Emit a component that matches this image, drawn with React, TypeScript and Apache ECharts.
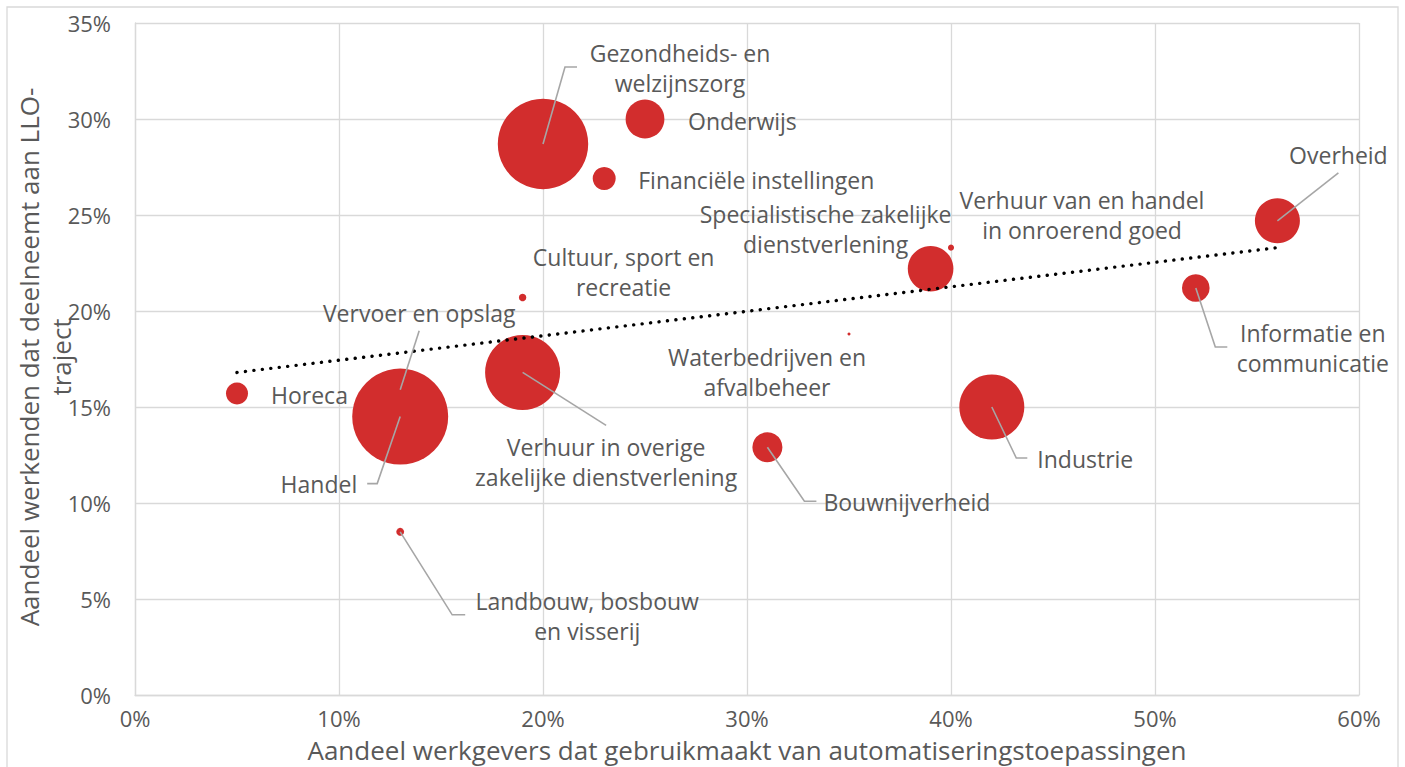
import React, { useEffect, useRef } from "react";
import * as echarts from "echarts";

// ---- data ----
const sectoren: string[] = [
  "Gezondheids- en\nwelzijnszorg",
  "Onderwijs",
  "Financiële instellingen",
  "Cultuur, sport en\nrecreatie",
  "Specialistische zakelijke\ndienstverlening",
  "Verhuur van en handel\nin onroerend goed",
  "Waterbedrijven en\nafvalbeheer",
  "Overheid",
  "Informatie en\ncommunicatie",
  "Industrie",
  "Bouwnijverheid",
  "Landbouw, bosbouw\nen visserij",
  "Vervoer en opslag",
  "Handel",
  "Horeca",
  "Verhuur in overige\nzakelijke dienstverlening",
];
// share of employers using automation applications (%)
const automatisering: number[] = [20, 25, 23, 19, 39, 40, 35, 56, 52, 42, 31, 13, 13, 13, 5, 19];
// share of workers taking part in an LLO-traject (%)
const lloDeelname: number[] = [28.7, 30.0, 26.9, 20.7, 22.2, 23.3, 18.8, 24.7, 21.2, 15.0, 12.9, 8.5, 15.9, 14.5, 15.7, 16.8];
// bubble size (relative number of workers)
const omvang: number[] = [1331, 245, 86, 9, 339, 6, 1.5, 330, 124, 688, 147, 10, 250, 1500, 79, 916];

const trendX: number[] = [5, 56];
const trendY: number[] = [16.8, 23.3];

const xTicks = { min: 0, max: 60, interval: 10 };
const yTicks = { min: 0, max: 35, interval: 5 };

// ---- label layout (pixel offsets from the bubble centre) ----
type LabelLayout = {
  dx: number;
  dy: number;
  align: "left" | "center" | "right";
  line?: number[][];
};
const labelLayout: LabelLayout[] = [
  { dx: 137, dy: -76, align: "center", line: [[22, -77], [34, -77]] },
  { dx: 43, dy: 1.5, align: "left" },
  { dx: 34, dy: 1, align: "left" },
  { dx: 101, dy: -26, align: "center" },
  { dx: -105, dy: -40, align: "center" },
  { dx: 131, dy: -33, align: "center" },
  { dx: -82, dy: 38, align: "center" },
  { dx: 61, dy: -66, align: "center", line: [[61, -48]] },
  { dx: 117, dy: 60, align: "center", line: [[19.5, 59], [31.5, 59]] },
  { dx: 45.5, dy: 52, align: "left", line: [[24.5, 51], [35.5, 51]] },
  { dx: 56, dy: 55, align: "left", line: [[37, 54], [49, 54]] },
  { dx: 187, dy: 84, align: "center", line: [[52, 83], [65, 83]] },
  { dx: 19, dy: -77, align: "center", line: [[19, -59]] },
  { dx: -43, dy: 67, align: "right", line: [[-23, 67], [-33, 67]] },
  { dx: 34, dy: 1, align: "left" },
  { dx: 83.5, dy: 90, align: "center", line: [[83.5, 53]] },
];

const FONT = "'Open Sans', Lato, sans-serif";
const TEXT = "#595959";
const GRID = "#d9d9d9";
const RED = "#d22d2d";

export default function App() {
  const ref = useRef<HTMLDivElement>(null);

  useEffect(() => {
    if (!ref.current) return;
    const chart = echarts.init(ref.current, undefined, { renderer: "svg" });

    const bubbleData = sectoren.map((n, i) => [automatisering[i], lloDeelname[i], omvang[i], n]);
    const labelData = sectoren.map((n, i) => [automatisering[i], lloDeelname[i]]);

    chart.setOption({
      animation: false,
      backgroundColor: "#ffffff",
      textStyle: { fontFamily: FONT },
      grid: { left: 135, right: 46, top: 23, height: 672 },
      xAxis: {
        type: "value",
        min: xTicks.min,
        max: xTicks.max,
        interval: xTicks.interval,
        axisLine: { show: true, lineStyle: { color: GRID, width: 1.3 } },
        axisTick: { show: false },
        splitLine: { show: true, lineStyle: { color: GRID, width: 1.3 } },
        axisLabel: { color: TEXT, fontSize: 22, lineHeight: 22, fontFamily: FONT, margin: 12, formatter: "{value}%" },
      },
      yAxis: {
        type: "value",
        min: yTicks.min,
        max: yTicks.max,
        interval: yTicks.interval,
        axisLine: { show: true, lineStyle: { color: GRID, width: 1.3 } },
        axisTick: { show: false },
        splitLine: { show: true, lineStyle: { color: GRID, width: 1.3 } },
        axisLabel: { color: TEXT, fontSize: 22, lineHeight: 22, fontFamily: FONT, margin: 24, formatter: "{value}%" },
      },
      graphic: [
        {
          type: "rect",
          z: -10,
          silent: true,
          shape: { x: 7, y: 7, width: 1391, height: 800 },
          style: { fill: "none", stroke: GRID, lineWidth: 1.3 },
        },
        {
          type: "text",
          x: 747,
          y: 750,
          silent: true,
          style: {
            text: "Aandeel werkgevers dat gebruikmaakt van automatiseringstoepassingen",
            fill: TEXT,
            fontSize: 26,
            lineHeight: 26,
            fontFamily: FONT,
            align: "center",
            verticalAlign: "middle",
          },
        },
        {
          type: "text",
          x: 45,
          y: 357,
          rotation: Math.PI / 2,
          silent: true,
          style: {
            text: "Aandeel werkenden dat deelneemt aan LLO-\ntraject",
            fill: TEXT,
            fontSize: 26,
            lineHeight: 32,
            fontFamily: FONT,
            align: "center",
            verticalAlign: "middle",
          },
        },
      ],
      series: [
        {
          type: "scatter",
          z: 2,
          data: bubbleData,
          symbol: "circle",
          symbolSize: (v: number[]) => Math.sqrt(v[2]) * 2.478,
          itemStyle: { color: RED, opacity: 1 },
        },
        {
          type: "line",
          z: 3,
          data: trendX.map((x, i) => [x, trendY[i]]),
          symbol: "none",
          lineStyle: { color: "#000000", width: 3.4, type: [0.1, 8.4], cap: "round" },
        },
        {
          type: "custom",
          z: 4,
          data: labelData,
          encode: { x: 0, y: 1 },
          clip: false,
          renderItem: (params: any, api: any) => {
            const i = params.dataIndex;
            const p = api.coord([api.value(0), api.value(1)]);
            const L = labelLayout[i];
            const children: any[] = [];
            if (L.line) {
              const pts = [[p[0], p[1]], ...L.line.map((d) => [p[0] + d[0], p[1] + d[1]])];
              children.push({
                type: "polyline",
                silent: true,
                shape: { points: pts },
                style: { stroke: "#a6a6a6", lineWidth: 1.6, fill: null },
              });
            }
            children.push({
              type: "text",
              x: p[0] + L.dx,
              y: p[1] + L.dy,
              silent: true,
              style: {
                text: sectoren[i],
                fill: TEXT,
                fontSize: 23,
                fontFamily: FONT,
                lineHeight: 30,
                align: L.align,
                verticalAlign: "middle",
              },
            });
            return { type: "group", children };
          },
        },
      ],
    });

    return () => chart.dispose();
  }, []);

  return (
    <div
      ref={ref}
      style={{ position: "absolute", left: 0, top: 0, width: 1405, height: 767 }}
    />
  );
}
